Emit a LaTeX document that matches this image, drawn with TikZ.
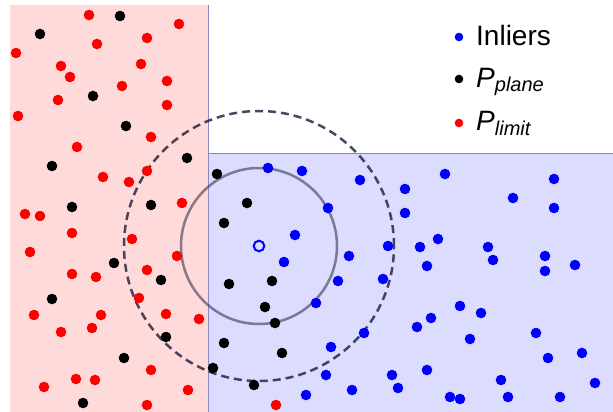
\documentclass[tikz,border=0pt]{standalone}
\usepackage{fontspec}
\setmainfont{Liberation Sans}
\definecolor{limitbg}{RGB}{255,218,218}
\definecolor{inlierbg}{RGB}{220,220,255}
\definecolor{ringcol}{RGB}{40,40,70}
\tikzset{legtext/.style={anchor=base west,inner sep=0pt,font=\fontsize{28}{28}\selectfont},
  ring/.style={ringcol,line width=2.5pt}}
\newcommand{\subtxt}[1]{\raisebox{-5pt}{\fontsize{20}{20}\selectfont\itshape #1}}

\begin{document}
\begin{tikzpicture}[x=1pt,y=-1pt]
\useasboundingbox (0,0) rectangle (613,412);
% limit region
\fill[limitbg] (10,5) rectangle (208,412);
% inlier region
\fill[inlierbg] (208,153) rectangle (613,412);
\draw[line width=1.2pt,blue!40!gray!70] (208,153.5) -- (613,153.5);
\draw[line width=1pt,gray!70!blue!70] (208,5) -- (208,412);
% search radii
\draw[ring,draw opacity=.55] (259,246) circle (78pt);
\draw[ring,draw opacity=.85,dash pattern=on 8pt off 5pt] (259,246) circle (135pt);
% points
\foreach \x/\y in {89/15,179/24,147/38,97/44,16/53,61/66,141/64,70/77,167/81,122/86,
  58/100,167/105,18/116,151/137,77/147,147/171,103/177,129/182,182/203,25/214,40/216,
  72/233,132/239,30/252,177/256,72/274,96/277,147/270,139/298,34/315,101/315,166/314,
  199/319,61/332,92/328,151/370,76/379,95/380,44/387,188/390,147/405,276/405}
  \fill[red] (\x,\y) circle (5.3pt);
\foreach \x/\y in {120/16,40/34,93/96,126/126,187/158,52/166,72/207,151/205,114/263,
  161/280,52/299,166/337,124/358,83/403,217/174,247/203,224/223,229/284,272/281,
  265/307,275/323,224/343,282/353,213/368,254/385}
  \fill[black] (\x,\y) circle (5.3pt);
\foreach \x/\y in {268/168,302/171,360/180,405/189,328/208,405/213,295/235,349/256,
  388/246,284/262,338/281,383/279,316/303,331/347,364/333,326/375,392/375,306/395,
  352/390,398/388,445/174,554/179,513/198,554/208,438/239,420/247,488/247,493/260,
  545/256,427/266,545/271,575/265,460/306,481/313,431/318,417/327,470/339,536/333,
  582/353,548/358,427/370,501/380,595/383,450/397,460/399,508/397,560/397}
  \fill[blue] (\x,\y) circle (5.3pt);
% query point
\draw[blue,line width=2pt] (259,246) circle (5.3pt);
% legend
\fill[blue] (459,37) circle (4.3pt);
\fill[black] (459,79) circle (4.3pt);
\fill[red] (459,123) circle (4.3pt);
\node[legtext] (inliers) at (476,45.5) {Inliers};
\node[legtext] (plane) at (476,87) {\textit{P}\subtxt{plane}};
\node[legtext] (limit) at (476,130.5) {\textit{P}\subtxt{limit}};
\end{tikzpicture}
\end{document}
